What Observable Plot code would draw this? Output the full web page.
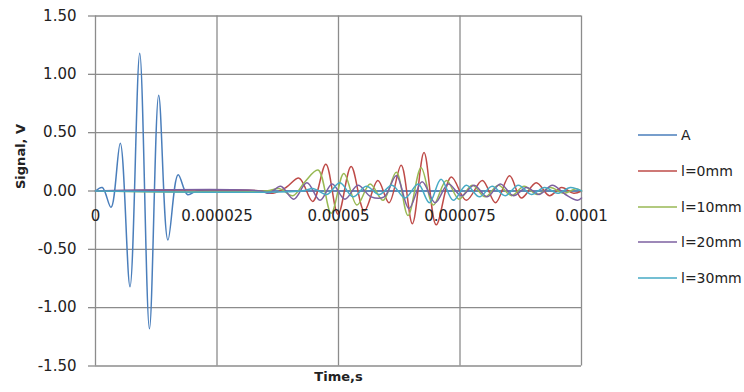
<!DOCTYPE html>
<html><head><meta charset="utf-8">
<script src="https://cdn.jsdelivr.net/npm/d3@7"></script>
<script src="https://cdn.jsdelivr.net/npm/@observablehq/plot@0.6"></script>
<style>
body{margin:0;background:#fff;overflow:hidden}
#wrap{position:relative;width:744px;height:392px;overflow:hidden}
#legend{position:absolute;left:0;top:0;width:744px;height:392px;font-family:"DejaVu Sans";font-size:14px;color:#222;pointer-events:none}
.row{position:absolute;left:638px;height:20px;white-space:nowrap}
.row svg{position:absolute;left:0;top:0}
.row span{position:absolute;left:43px;top:0;line-height:20px}
</style></head><body><div id="wrap"><div id="legend"></div></div>
<script>
// time values in microseconds, converted to seconds for plotting
const US = 1e-6;
const xTicks = [0, 0.000025, 0.00005, 0.000075, 0.0001];
const xTickLabels = ["0", "0.000025", "0.00005", "0.000075", "0.0001"];
const yTicks = [-1.5, -1, -0.5, 0, 0.5, 1, 1.5];
const seriesNames = ["A", "l=0mm", "l=10mm", "l=20mm", "l=30mm"];
const seriesColors = ["#4A7EBB", "#BE4B48", "#98B954", "#7D60A0", "#46AAC5"];

const tA = [0, 1.4, 3.2, 5.1, 7.1, 9.1, 11.1, 13.0, 14.9, 17.0, 18.9, 20.8, 23, 100];
const vA = [0, 0.03, -0.14, 0.41, -0.82, 1.18, -1.18, 0.82, -0.42, 0.14, -0.03, 0, 0, 0];

const t0 = [0, 34.4, 36.5, 39.2, 41.9, 44.7, 47.4, 49.9, 52.6, 55.3, 58.1, 60.4, 62.9, 65.2, 67.6, 70.1, 73.2, 76.3, 79.6, 82.3, 85.2, 87.6, 90.7, 93.4, 95.9, 98.4, 100];
const v0 = [0, 0, -0.02, 0.03, 0.11, -0.09, 0.23, -0.2, 0.21, -0.17, 0.09, -0.1, 0.22, -0.28, 0.33, -0.29, 0.12, -0.08, 0.09, -0.1, 0.13, -0.06, 0.07, -0.04, 0.03, -0.02, 0];

const t10 = [0, 35, 37.9, 40.6, 43.1, 45.8, 48.5, 51.1, 53.8, 56.5, 59.2, 61.9, 64.3, 67.0, 69.5, 72.2, 74.8, 77.5, 80.2, 82.9, 85.6, 88.2, 90.9, 93.6, 96.3, 98.9, 100];
const v10 = [0, 0, 0.02, -0.04, 0.08, 0.18, -0.19, 0.15, -0.12, 0.06, -0.08, 0.16, -0.21, 0.2, -0.12, 0.09, -0.07, 0.05, -0.05, 0.05, -0.04, 0.04, -0.03, 0.03, -0.02, 0.02, 0];

const t20 = [0, 34, 35.7, 38.1, 40.8, 43.5, 46.2, 48.7, 51.3, 54.0, 56.7, 59.4, 61.9, 64.5, 67.2, 69.9, 72.6, 75.3, 77.9, 80.6, 83.3, 86.0, 88.7, 91.3, 94.0, 96.7, 99.2, 100];
const v20 = [0, 0, -0.02, 0.04, -0.07, 0.07, -0.08, 0.06, -0.07, 0.05, -0.05, -0.05, 0.13, -0.15, 0.08, -0.1, 0.06, -0.04, 0.05, -0.05, 0.06, -0.04, 0.03, -0.03, 0.05, -0.03, -0.08, -0.06];

const t30 = [0, 42.3, 44.9, 47.6, 50.3, 53.0, 55.7, 58.4, 61.0, 63.7, 66.4, 68.7, 71.1, 73.6, 76.3, 79.0, 81.6, 84.3, 87.0, 89.7, 92.4, 95.1, 97.7, 100];
const v30 = [0, 0, 0.02, -0.03, 0.07, -0.05, 0.04, -0.03, 0.05, -0.06, 0.06, -0.1, 0.1, -0.08, 0.05, -0.05, 0.04, -0.04, 0.05, -0.03, 0.03, -0.02, 0.03, 0];

const seriesT = [tA, t0, t10, t20, t30];
const seriesV = [vA, v0, v10, v20, v30];
const rows = [];
seriesNames.forEach((name, i) => {
  seriesT[i].forEach((t, j) => rows.push({series: name, t: t * US, v: seriesV[i][j]}));
});

const font = "DejaVu Sans";
const chart = Plot.plot({
  width: 744, height: 392,
  marginLeft: 95, marginRight: 163, marginTop: 15.5, marginBottom: 26.5,
  style: {fontFamily: font, fontSize: "15px", color: "#222", background: "#fff"},
  x: {domain: [0, 0.0001], axis: null},
  y: {domain: [-1.5, 1.5], axis: null},
  color: {domain: seriesNames, range: seriesColors},
  marks: [
    Plot.gridY(yTicks, {stroke: "#8c8c8c", strokeOpacity: 1, strokeWidth: 1.3}),
    Plot.gridX(xTicks, {stroke: "#8c8c8c", strokeOpacity: 1, strokeWidth: 1.3}),
    Plot.axisY(yTicks, {label: null, tickSize: 7, tickPadding: 12, stroke: "#8c8c8c", strokeWidth: 1.3, tickFormat: d => d.toFixed(2), fontSize: 15, fill: "#222"}),
    Plot.line(rows, {x: "t", y: "v", z: "series", stroke: "series", strokeWidth: 1.5, curve: "catmull-rom"}),
    Plot.text(xTicks, {x: d => d, y: 0, text: (d, i) => xTickLabels[i], dy: 25, fontSize: 15, fill: "#222"}),
    Plot.text(["Signal, V"], {frameAnchor: "left", dx: -75, dy: -2, rotate: -90, fontWeight: "bold", fontSize: 13, fill: "#222"}),
    Plot.text(["Time,s"], {frameAnchor: "bottom", dy: 15, fontWeight: "bold", fontSize: 13, fill: "#222"})
  ]
});
const wrap = document.getElementById("wrap");
wrap.insertBefore(chart, wrap.firstChild);

const legendY = [135, 171, 207, 242, 278];
const legend = document.getElementById("legend");
seriesNames.forEach((name, i) => {
  const row = document.createElement("div");
  row.className = "row";
  row.style.top = (legendY[i] - 10) + "px";
  row.innerHTML = `<svg width="40" height="20"><line x1="0" x2="39" y1="10" y2="10" stroke="${seriesColors[i]}" stroke-width="1.5"/></svg><span>${name}</span>`;
  legend.appendChild(row);
});
</script></body></html>
